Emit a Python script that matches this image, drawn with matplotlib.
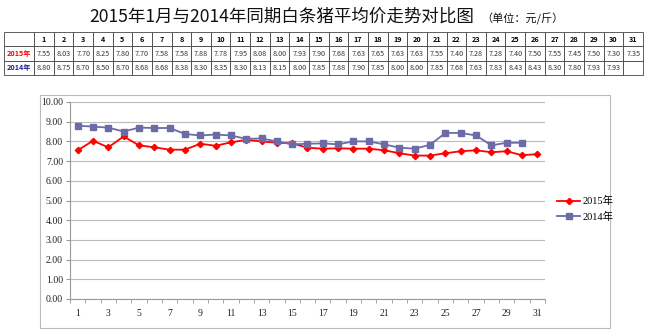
import matplotlib
matplotlib.use("Agg")
import matplotlib.pyplot as plt
from matplotlib.patches import Rectangle

plt.rcParams['font.family'] = ['Noto Sans CJK SC', 'DejaVu Sans']

days = list(range(1, 32))
price_2015 = [7.55, 8.03, 7.70, 8.25, 7.80, 7.70, 7.58, 7.58, 7.88, 7.78,
              7.95, 8.08, 8.00, 7.93, 7.90, 7.68, 7.63, 7.65, 7.63, 7.63,
              7.55, 7.40, 7.28, 7.28, 7.40, 7.50, 7.55, 7.45, 7.50, 7.30, 7.35]
price_2014 = [8.80, 8.75, 8.70, 8.50, 8.70, 8.68, 8.68, 8.38, 8.30, 8.35,
              8.30, 8.13, 8.15, 8.00, 7.85, 7.88, 7.90, 7.85, 8.00, 8.00,
              7.85, 7.68, 7.63, 7.83, 8.43, 8.43, 8.30, 7.80, 7.93, 7.93]
label_2015 = "2015年"
label_2014 = "2014年"
title = "2015年1月与2014年同期白条猪平均价走势对比图"
unit = "（单位：元/斤）"

c2015 = "#ff0000"
c2014 = "#6b6ba8"

W, H = 650, 334
fig = plt.figure(figsize=(W / 100, H / 100), dpi=100)
fig.patch.set_facecolor("white")

def fx(px):
    return px / W

def fy(py):
    return 1 - py / H

# Title and unit note
fig.text(fx(89), fy(17), title, fontsize=12.6, ha="left", va="center", color="#111111")
fig.text(fx(481), fy(19), unit, fontsize=8, ha="left", va="center", color="#111111")

# Data table
tab_ax = fig.add_axes([fx(4), fy(75), fx(639), 43 / H])
tab_ax.axis("off")
header = [""] + [str(d) for d in days]
row15 = [label_2015] + [f"{v:.2f}" for v in price_2015]
row14 = [label_2014] + [f"{v:.2f}" for v in price_2014] + [""] * (31 - len(price_2014))
first_w = 30 / 639
other_w = (1 - first_w) / 31
tbl = tab_ax.table(cellText=[header, row15, row14], bbox=[0, 0, 1, 1],
                   colWidths=[first_w] + [other_w] * 31, cellLoc="center")
tbl.auto_set_font_size(False)
for (r, c), cell in tbl.get_celld().items():
    cell.set_edgecolor("#444444")
    cell.set_linewidth(0.6)
    txt = cell.get_text()
    txt.set_fontsize(5.2)
    txt.set_family(['Noto Sans CJK SC', 'DejaVu Sans'])
    if r == 0:
        txt.set_fontweight("bold")
    if c == 0 and r == 1:
        txt.set_color(c2015)
        txt.set_fontweight("bold")
    if c == 0 and r == 2:
        txt.set_color("#2020a0")
        txt.set_fontweight("bold")
    if c > 0 and r > 0:
        txt.set_color("#333333")

# Chart frame
fig.patches.append(Rectangle((fx(40), fy(328)), fx(570), 233 / H, transform=fig.transFigure,
                             fill=False, edgecolor="#bbbbbb", linewidth=0.8))

ax = fig.add_axes([fx(70), fy(299), fx(475), 197 / H])
ax.plot(days, price_2015, color=c2015, lw=1.3, marker="D", ms=3.2,
        markerfacecolor=c2015, markeredgecolor=c2015, label=label_2015, zorder=3)
ax.plot(days[:len(price_2014)], price_2014, color=c2014, lw=1.3, marker="s", ms=4.3,
        markerfacecolor=c2014, markeredgecolor=c2014, label=label_2014, zorder=3)

ax.set_xlim(0.5, 31.5)
ax.set_ylim(0, 10)
ax.set_yticks(range(0, 11))
ax.set_yticklabels([f"{v:.2f}" for v in range(0, 11)], family="Liberation Serif", fontsize=7, color="#222222")
ax.set_xticks(range(1, 32, 2))
ax.set_xticklabels([str(d) for d in range(1, 32, 2)], family="Liberation Serif", fontsize=7, color="#222222")
ax.set_xticks([d + 0.5 for d in range(0, 32)], minor=True)
ax.tick_params(axis="x", which="major", length=0, pad=7)
ax.tick_params(axis="x", which="minor", length=3, color="#999999", direction="out")
ax.tick_params(axis="y", length=3, color="#999999", pad=2)
ax.grid(axis="y", color="#bbbbbb", linewidth=0.8)
ax.set_axisbelow(True)
for s in ["top", "right"]:
    ax.spines[s].set_visible(False)
for s in ["left", "bottom"]:
    ax.spines[s].set_color("#999999")
    ax.spines[s].set_linewidth(0.8)

fig.legend(loc="center left", bbox_to_anchor=(fx(548), fy(209)), frameon=False,
           handlelength=2.2, handletextpad=0.2, labelspacing=0.5,
           prop={"family": ["Liberation Serif", "Noto Sans CJK SC"], "size": 7.5})

fig.savefig("out.png", dpi=100)
